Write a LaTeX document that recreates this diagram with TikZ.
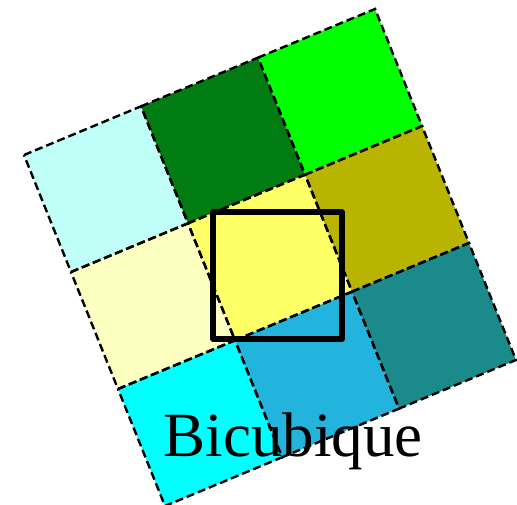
\documentclass[tikz,border=0pt]{standalone}
\usepackage{fontspec}
\setmainfont{Liberation Serif}
\definecolor{cA}{RGB}{192,255,248}
\definecolor{cB}{RGB}{0,124,18}
\definecolor{cC}{RGB}{0,255,0}
\definecolor{cD}{RGB}{252,255,192}
\definecolor{cE}{RGB}{255,255,102}
\definecolor{cF}{RGB}{184,180,0}
\definecolor{cG}{RGB}{0,255,255}
\definecolor{cH}{RGB}{34,180,220}
\definecolor{cI}{RGB}{26,138,138}
\tikzset{cellborder/.style={draw=black,line width=2.4pt,dash pattern=on 8pt off 4pt}}
\begin{document}
\begin{tikzpicture}[x=1pt,y=1pt]
\useasboundingbox (0,0) rectangle (517,505);
\begin{scope}[shift={(24,350)},x={(117pt,48.67pt)},y={(47pt,-117pt)}]
\foreach \c/\r/\col in {0/0/cA,1/0/cB,2/0/cC,0/1/cD,1/1/cE,2/1/cF,0/2/cG,1/2/cH,2/2/cI}{
  \fill[\col] (\c,\r) -- (\c+1,\r) -- (\c+1,\r+1) -- (\c,\r+1) -- cycle;
}
\foreach \c/\r in {0/0,1/0,2/0,0/1,1/1,2/1,0/2,1/2,2/2}{
  \draw[cellborder] (\c,\r) -- (\c+1,\r) -- (\c+1,\r+1) -- (\c,\r+1) -- cycle;
}
\end{scope}
\draw[line width=5.5pt,line join=round] (213,166) rectangle (342,293);
\node[anchor=base,inner sep=0pt,font=\fontsize{63}{63}\selectfont] (label) at (293,48) {Bicubique};
\end{tikzpicture}
\end{document}
